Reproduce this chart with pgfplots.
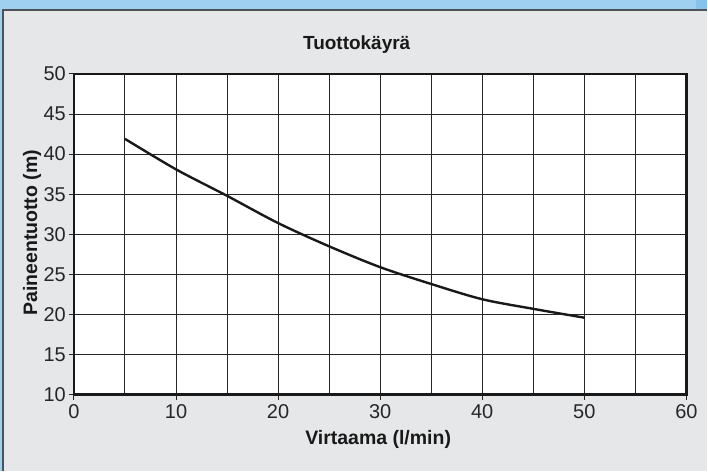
\documentclass[border=0pt]{standalone}
\usepackage{pgfplots}
\pgfplotsset{compat=1.18}
\usepackage{fontspec}
\setmainfont{Liberation Sans}
\definecolor{bgblue}{HTML}{9FD0F0}
\definecolor{bgblue2}{HTML}{86C2EC}
\definecolor{panel}{HTML}{E6E7E8}
\definecolor{edge}{HTML}{4F5256}
\begin{document}
\begin{tikzpicture}[x=1pt,y=1pt]
% background (1pt = 1px of the reference; axis lower-left at (0,0))
\fill[bgblue] (-74,-76) rectangle (634,395);
\fill[bgblue2] (623,385) rectangle (634,395);
\fill[panel] (-71,-76) rectangle (634,385);
\draw[edge,line width=1.3pt] (-71,-76) -- (-71,385) -- (634,385);
\begin{axis}[
  at={(0,0)}, anchor=origin,
  scale only axis, width=613pt, height=321pt,
  xmin=0, xmax=60, ymin=10, ymax=50,
  xtick={0,10,...,60}, ytick={10,15,...,50},
  minor xtick={5,15,...,55},
  xtick pos=bottom, ytick pos=left,
  grid=both,
  major grid style={draw=black!85, line width=1pt},
  minor grid style={draw=black!85, line width=1pt},
  axis line style={line width=2.4pt, black!90},
  tick align=outside, major tick length=5pt, minor tick length=0pt,
  tick style={black!85, line width=1pt},
  axis background/.style={fill=white},
  tick label style={font=\fontsize{20}{22}\selectfont, text=black!85},
  xticklabel style={inner sep=1pt, yshift=-4pt},
  yticklabel style={inner sep=1pt, xshift=-2pt},
  /pgf/number format/assume math mode=true,
]
\addplot[black!90, line width=2.4pt, smooth] coordinates {
  (5,41.9) (10,38.1) (15,34.8) (20,31.4) (25,28.5) (30,25.9)
  (35,23.8) (40,21.9) (45,20.7) (50,19.6)
};
\end{axis}
\node[font=\bfseries\fontsize{19}{22}\selectfont, text=black!90] at (283,350) {Tuottokäyrä};
\node[font=\bfseries\fontsize{19.5}{22}\selectfont, text=black!90] at (304.5,-45) {Virtaama (l/min)};
\node[font=\bfseries\fontsize{19.5}{22}\selectfont, text=black!90, rotate=90] at (-42,162) {Paineentuotto (m)};
\end{tikzpicture}
\end{document}
